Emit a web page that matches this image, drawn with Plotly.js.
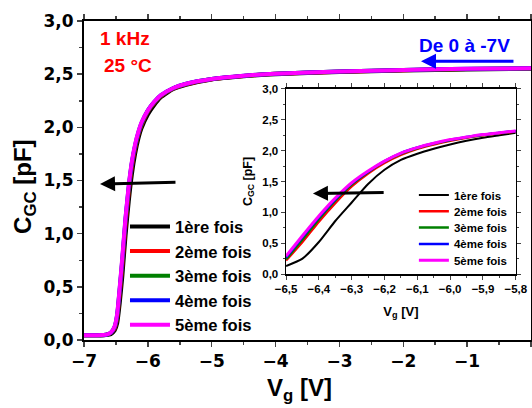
<!DOCTYPE html>
<html><head><meta charset="utf-8">
<script src="https://cdn.plot.ly/plotly-3.0.1.min.js"></script>
<style>html,body{margin:0;padding:0;background:#fff}#c{width:532px;height:408px}</style>
</head><body><div id="c"></div>
<script>
// ---- Main plot data (Vg sweep 0 -> -7 V) ----
var vgMain = [-7, -6.8, -6.65, -6.58, -6.52, -6.48, -6.44, -6.40, -6.35, -6.30, -6.25, -6.20, -6.15, -6.10, -6.0, -5.9, -5.8, -5.6, -5.4, -5.0, -4.5, -4.0, -3.0, -2.0, -1.0, 0];
var main1 = [0.045,0.045,0.048,0.055,0.09,0.16,0.35,0.60,0.98,1.30,1.56,1.75,1.89,1.99,2.12,2.21,2.28,2.36,2.40,2.45,2.48,2.50,2.52,2.535,2.545,2.55];
var main2 = [0.045,0.045,0.05,0.065,0.11,0.21,0.44,0.70,1.08,1.39,1.63,1.80,1.93,2.02,2.15,2.23,2.29,2.365,2.405,2.453,2.483,2.503,2.523,2.538,2.548,2.553];
var main3 = [0.045,0.045,0.05,0.067,0.12,0.23,0.47,0.74,1.12,1.42,1.66,1.82,1.94,2.03,2.155,2.235,2.295,2.368,2.408,2.454,2.484,2.504,2.524,2.539,2.549,2.554];
var main4 = [0.045,0.045,0.05,0.068,0.125,0.24,0.49,0.76,1.14,1.44,1.67,1.83,1.95,2.04,2.16,2.24,2.30,2.37,2.41,2.455,2.485,2.505,2.525,2.54,2.55,2.555];
var main5 = [0.045,0.045,0.05,0.07,0.13,0.25,0.50,0.78,1.15,1.45,1.68,1.84,1.955,2.045,2.16,2.24,2.30,2.37,2.41,2.455,2.485,2.505,2.525,2.54,2.55,2.556];

// ---- Inset data (zoom -6.5 .. -5.8 V) ----
var vgInset = [-6.5,-6.45,-6.4,-6.35,-6.3,-6.25,-6.2,-6.15,-6.1,-6.05,-6.0,-5.95,-5.9,-5.85,-5.8];
var ins1 = [0.13,0.25,0.52,0.86,1.16,1.46,1.69,1.85,1.95,2.03,2.10,2.16,2.21,2.25,2.29];
var ins2 = [0.22,0.52,0.85,1.15,1.42,1.63,1.80,1.93,2.03,2.10,2.16,2.21,2.25,2.28,2.31];
var ins3 = [0.24,0.56,0.89,1.19,1.45,1.65,1.82,1.95,2.04,2.11,2.17,2.215,2.255,2.285,2.315];
var ins4 = [0.27,0.60,0.92,1.21,1.47,1.66,1.83,1.96,2.05,2.12,2.175,2.22,2.26,2.29,2.32];
var ins5 = [0.29,0.62,0.94,1.23,1.48,1.67,1.83,1.96,2.05,2.12,2.18,2.22,2.26,2.29,2.32];

var names = ['1ère fois','2ème fois','3ème fois','4ème fois','5ème fois'];
var colors = ['#000000','#ff0000','#008000','#0000ff','#ff00ff'];
var mainSeries = [main1, main2, main3, main4, main5];
var insetSeries = [ins1, ins2, ins3, ins4, ins5];
var xTickMain = [-7,-6,-5,-4,-3,-2,-1,0];
var xTickInset = [-6.5,-6.4,-6.3,-6.2,-6.1,-6.0,-5.9,-5.8];

var traces = [];
for (var i = 0; i < 5; i++) {
  traces.push({x: vgMain, y: mainSeries[i], type:'scatter', mode:'lines', name: names[i],
    line:{color:colors[i], width:4, shape:'spline', smoothing:0.5}, xaxis:'x', yaxis:'y', legend:'legend'});
}
var insW = [2, 2.5, 2.5, 2.5, 3];
for (var j = 0; j < 5; j++) {
  traces.push({x: vgInset, y: insetSeries[j], type:'scatter', mode:'lines', name: names[j],
    line:{color:colors[j], width:insW[j], shape:'spline', smoothing:0.6}, xaxis:'x2', yaxis:'y2', legend:'legend2'});
}

var tickFontMain = {family:'DejaVu Sans', size:17, weight:'bold', color:'#000'};
var tickFontIn = {family:'Liberation Sans', size:11.5, weight:'bold', color:'#000'};
var titleFont = {family:'Liberation Sans', size:24, weight:'bold', color:'#000'};

var layout = {
  width:532, height:408,
  margin:{l:84, r:1, t:21, b:68},
  paper_bgcolor:'#fff', plot_bgcolor:'#fff',
  separators:',.',
  font:{family:'Liberation Sans', weight:'bold', color:'#000'},
  showlegend:true,
  xaxis:{domain:[0,1], range:[-7,0], tickvals:xTickMain, tickformat:'d', ticks:'outside', ticklen:5, tickwidth:1.5,
    showline:true, linewidth:2, linecolor:'#000', mirror:'allticks', showgrid:false, zeroline:false,
    minor:{dtick:0.5, tick0:0, ticks:'outside', ticklen:3, tickwidth:1.5},
    tickfont:tickFontMain},
  yaxis:{domain:[0,1], range:[0,3], dtick:0.5, tick0:0, tickformat:'.1f', ticks:'outside', ticklen:5, tickwidth:1.5,
    showline:true, linewidth:2, linecolor:'#000', mirror:'allticks', showgrid:false, zeroline:false,
    minor:{dtick:0.25, tick0:0, ticks:'outside', ticklen:3, tickwidth:1.5},
    tickfont:tickFontMain},
  xaxis2:{domain:[0.452,0.966], anchor:'y2', range:[-6.5,-5.8], tickvals:xTickInset, tickformat:'.1f',
    ticks:'outside', ticklen:4, tickwidth:1, showline:true, linewidth:1.5, linecolor:'#000', mirror:'allticks',
    showgrid:false, zeroline:false, minor:{dtick:0.05, tick0:0, ticks:'outside', ticklen:2, tickwidth:1},
    tickfont:tickFontIn,
    title:{text:'V<sub>g</sub> [V]', font:{family:'Liberation Sans', size:13, weight:'bold'}, standoff:12}},
  yaxis2:{domain:[0.2067,0.787], anchor:'x2', range:[0,3], dtick:0.5, tick0:0, tickformat:'.1f',
    ticks:'outside', ticklen:4, tickwidth:1, showline:true, linewidth:1.5, linecolor:'#000', mirror:'allticks',
    showgrid:false, zeroline:false, minor:{dtick:0.25, tick0:0, ticks:'outside', ticklen:2, tickwidth:1},
    tickfont:tickFontIn,
    title:{text:'C<sub>GC</sub> [pF]', font:{family:'Liberation Sans', size:12.5, weight:'bold'}, standoff:7}},
  legend:{x:0.0917, y:0.41, xanchor:'left', yanchor:'top', bgcolor:'rgba(0,0,0,0)', borderwidth:0,
    font:{family:'Liberation Sans', size:16.6, weight:'bold', color:'#000'}, itemwidth:40, tracegroupgap:0},
  legend2:{x:0.738, y:0.5, xanchor:'left', yanchor:'top', bgcolor:'rgba(0,0,0,0)', borderwidth:0,
    font:{family:'Liberation Sans', size:11.5, weight:'bold', color:'#000'}, itemwidth:30, tracegroupgap:0},
  annotations:[
    {xref:'paper', yref:'paper', x:-0.132, y:0.483, xanchor:'center', yanchor:'middle', textangle:-90,
     text:'C<sub>GC</sub> [pF]', showarrow:false, font:titleFont},
    {xref:'paper', yref:'paper', x:0.483, y:-0.155, xanchor:'center', yanchor:'middle',
     text:'V<sub>g</sub> [V]', showarrow:false, font:titleFont},
    {xref:'x', yref:'y', x:-6.358, y:2.838, text:'1 kHz', showarrow:false, font:{family:'Liberation Sans', size:19, weight:'bold', color:'#ff0000'}},
    {xref:'x', yref:'y', x:-6.311, y:2.585, text:'25 °C', showarrow:false, font:{family:'Liberation Sans', size:19, weight:'bold', color:'#ff0000'}},
    {xref:'x', yref:'y', x:-1.034, y:2.773, text:'De 0 à -7V', showarrow:false, font:{family:'Liberation Sans', size:19, weight:'bold', color:'#0000ff'}},
    {xref:'x', yref:'y', axref:'x', ayref:'y', x:-6.749, y:1.466, ax:-5.544, ay:1.485, text:'', showarrow:true, arrowhead:2, arrowsize:1, arrowwidth:3, arrowcolor:'#000'},
    {xref:'x', yref:'y', axref:'x', ayref:'y', x:-1.723, y:2.622, ax:-0.251, ay:2.622, text:'', showarrow:true, arrowhead:2, arrowsize:1, arrowwidth:3, arrowcolor:'#0000ff'},
    {xref:'x2', yref:'y2', axref:'x2', ayref:'y2', x:-6.418, y:1.306, ax:-6.198, ay:1.322, text:'', showarrow:true, arrowhead:2, arrowsize:1, arrowwidth:3, arrowcolor:'#000'}
  ]
};
var gd = document.getElementById('c');
Plotly.newPlot(gd, traces, layout, {displayModeBar:false, staticPlot:true}).then(function(){
  // tighten the inset legend's row spacing to match the compact reference legend
  try {
    var items = gd.querySelectorAll('g.legend2 g.traces');
    var ys = [], xs = [];
    for (var k = 0; k < items.length; k++) {
      var m = /translate\(\s*([-\d.e]+)[ ,]+([-\d.e]+)\s*\)/.exec(items[k].getAttribute('transform') || '');
      if (!m) return;
      xs.push(parseFloat(m[1])); ys.push(parseFloat(m[2]));
    }
    var gap = 16.3;
    for (var k2 = 0; k2 < items.length; k2++) {
      items[k2].setAttribute('transform', 'translate(' + xs[k2] + ',' + (ys[0] + k2 * gap) + ')');
    }
  } catch (e) {}
});
</script></body></html>
